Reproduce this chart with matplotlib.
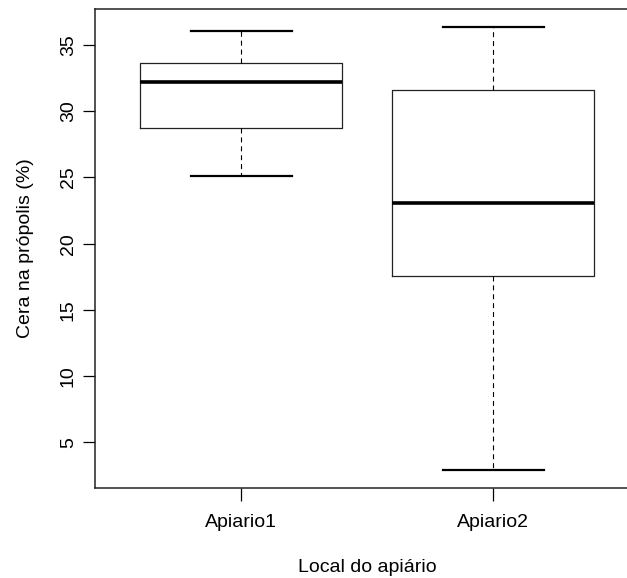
import matplotlib
matplotlib.use("Agg")
import matplotlib.pyplot as plt

categories = ["Apiario1", "Apiario2"]
whis_lo = [25.13, 2.90]
q1 = [28.75, 17.55]
medians = [32.23, 23.04]
q3 = [33.66, 31.58]
whis_hi = [36.06, 36.38]
y_ticks = [5, 10, 15, 20, 25, 30, 35]

plt.rcParams['font.family'] = ['Liberation Sans', 'DejaVu Sans']

fig = plt.figure(figsize=(6.27, 5.78), dpi=100)
ax = fig.add_axes([95/627, (578-488)/578, (639.5-95)/627, (488-9)/578])

stats = []
for i, c in enumerate(categories):
    stats.append(dict(label=c, whislo=whis_lo[i], q1=q1[i], med=medians[i],
                      q3=q3[i], whishi=whis_hi[i], fliers=[]))

ax.bxp(stats, positions=[1, 2], widths=0.8, showfliers=False,
       boxprops=dict(color='#222222', linewidth=0.9),
       medianprops=dict(color='black', linewidth=2.6, solid_capstyle='butt'),
       whiskerprops=dict(color='black', linewidth=0.8, linestyle=(0, (4.5, 3.5))),
       capprops=dict(color='black', linewidth=1.6),
       capwidths=0.4)

lo = min(whis_lo); hi = max(whis_hi); r = hi - lo
ax.set_ylim(lo - 0.04*r, hi + 0.04*r)
ax.set_xlim(0.42, 2.58)
ax.set_yticks(y_ticks)
ax.set_yticklabels([str(t) for t in y_ticks], rotation=90, va='center')
ax.set_xticks([1, 2])
ax.set_xticklabels(categories)
ax.tick_params(axis='both', labelsize=14, length=9, width=0.9, color='black')
ax.tick_params(axis='y', pad=4)
ax.tick_params(axis='x', pad=10)
for s in ax.spines.values():
    s.set_linewidth(1.1)
    s.set_color('#222222')

ax.set_xlabel("Local do apiário", fontsize=14, labelpad=20)
ax.set_ylabel("Cera na própolis (%)", fontsize=14, labelpad=19)

fig.savefig("out.png", dpi=100)
